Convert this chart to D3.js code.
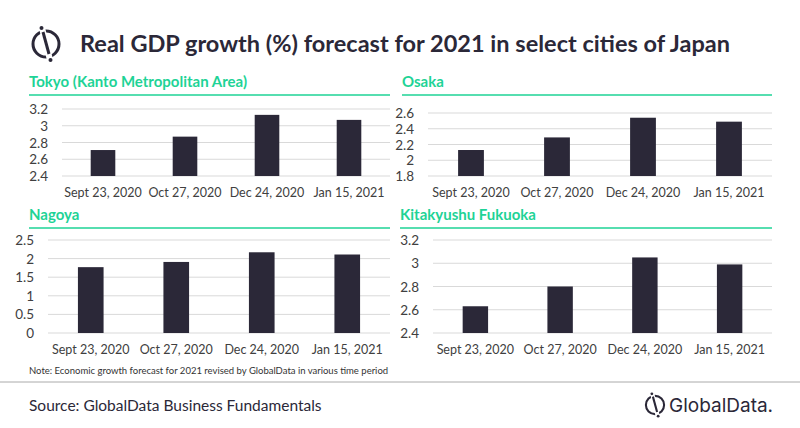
<!DOCTYPE html><html><head><meta charset="utf-8">
<script src="https://cdn.jsdelivr.net/npm/d3@7"></script>
<style>body{margin:0;background:#fff;font-family:Lato,"Open Sans",sans-serif}</style></head><body>
<svg id="c" width="800" height="428"></svg>
<script>
const categories=["Sept 23, 2020","Oct 27, 2020","Dec 24, 2020","Jan 15, 2021"];
const tokyo=[2.71,2.87,3.13,3.07];
const osaka=[2.13,2.29,2.54,2.49];
const nagoya=[1.77,1.91,2.17,2.11];
const kitakyushu=[2.63,2.80,3.05,2.99];
const tokyoTicks=[2.4,2.6,2.8,3,3.2];
const osakaTicks=[1.8,2,2.2,2.4,2.6];
const nagoyaTicks=[0,0.5,1,1.5,2,2.5];
const kitaTicks=[2.4,2.6,2.8,3,3.2];
const svg=d3.select("#c");
const dark="#2b2838", green="#1ed396";
function logo(g,s){
 g.append("circle").attr("r",13*s).attr("fill","none").attr("stroke",dark).attr("stroke-width",3*s);
 g.append("line").attr("x1",-4*s).attr("y1",-16*s).attr("x2",4*s).attr("y2",16*s).attr("stroke","#fff").attr("stroke-width",6*s);
 g.append("line").attr("x1",-3*s).attr("y1",-12*s).attr("x2",3*s).attr("y2",10*s).attr("stroke",dark).attr("stroke-width",3*s);
 g.append("circle").attr("cx",-4.5*s).attr("cy",-16*s).attr("r",2*s).attr("fill",dark);
 g.append("circle").attr("cx",4.5*s).attr("cy",16*s).attr("r",2*s).attr("fill",dark);
}
logo(svg.append("g").attr("transform","translate(46,44)"),1);
svg.append("text").attr("x",80).attr("y",52).attr("font-size",23.5).attr("font-weight","bold").attr("fill",dark).attr("textLength",650).text("Real GDP growth (%) forecast for 2021 in select cities of Japan");
function panel(o){
 svg.append("text").attr("x",o.tx).attr("y",o.ty).attr("font-size",15).attr("font-weight","bold").attr("fill",green).text(o.title);
 svg.append("line").attr("x1",o.tx).attr("x2",o.x1).attr("y1",o.ty+8).attr("y2",o.ty+8).attr("stroke",green).attr("stroke-width",1.5);
 const x=d3.scaleBand().domain(categories).range([o.x0,o.x1]).paddingInner(0.7).paddingOuter(0.35);
 const y=d3.scaleLinear().domain([o.ticks[0],o.ticks[o.ticks.length-1]]).range([o.y0,o.y1]);
 const g=svg.append("g");
 g.selectAll(".gl").data(o.ticks).join("line").attr("x1",o.x0).attr("x2",o.x1).attr("y1",d=>y(d)).attr("y2",d=>y(d)).attr("stroke","#d9d9d9");
 g.selectAll(".yl").data(o.ticks).join("text").attr("x",o.x0-14).attr("y",d=>y(d)+5).attr("text-anchor","end").attr("font-size",13.5).attr("fill","#404040").text(d=>d);
 g.selectAll("rect").data(o.vals).join("rect").attr("x",(d,i)=>x(categories[i])).attr("width",x.bandwidth()).attr("y",d=>y(d)).attr("height",d=>y(o.ticks[0])-y(d)).attr("fill",dark);
 g.selectAll(".xl").data(categories).join("text").attr("x",d=>x(d)+x.bandwidth()/2).attr("y",o.y0+21).attr("text-anchor","middle").attr("font-size",12.5).attr("fill","#404040").text(d=>d);
}
panel({title:"Tokyo (Kanto Metropolitan Area)",tx:29,ty:87,x0:62,x1:390,y0:176,y1:109,ticks:tokyoTicks,vals:tokyo});
panel({title:"Osaka",tx:402,ty:87,x0:428,x1:772,y0:176,y1:113,ticks:osakaTicks,vals:osaka});
panel({title:"Nagoya",tx:29,ty:220,x0:48,x1:390,y0:333,y1:240,ticks:nagoyaTicks,vals:nagoya});
panel({title:"Kitakyushu Fukuoka",tx:400,ty:220,x0:433,x1:772,y0:333,y1:240,ticks:kitaTicks,vals:kitakyushu});
svg.append("text").attr("x",29).attr("y",374).attr("font-size",9.5).attr("fill","#333").text("Note: Economic growth forecast for 2021 revised by GlobalData in various time period");
svg.append("line").attr("x1",0).attr("x2",800).attr("y1",382).attr("y2",382).attr("stroke","#aaa");
svg.append("text").attr("x",29).attr("y",411).attr("font-size",15.5).attr("fill",dark).text("Source: GlobalData Business Fundamentals");
logo(svg.append("g").attr("transform","translate(655,405)"),0.7);
svg.append("text").attr("x",669).attr("y",412).attr("font-size",19).attr("fill",dark).attr("font-family","Inter,sans-serif").text("GlobalData.");
</script></body></html>
